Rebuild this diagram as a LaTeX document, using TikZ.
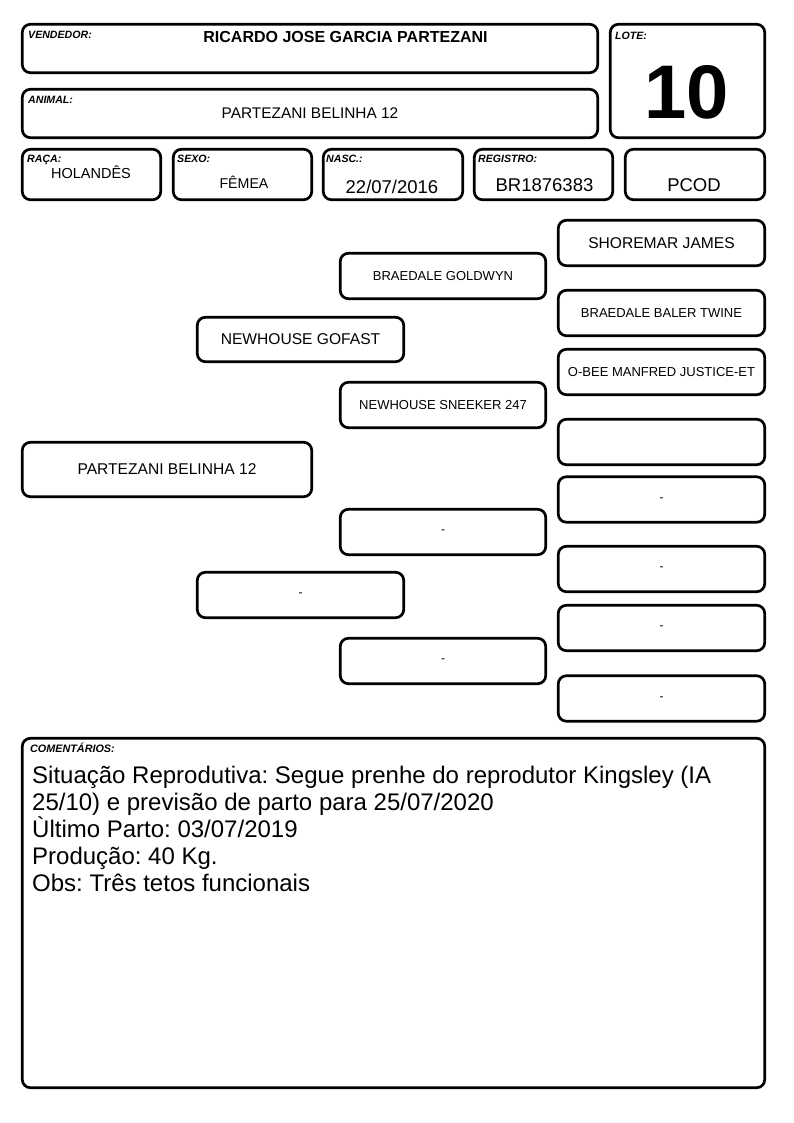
\documentclass[tikz,border=0pt]{standalone}
\usepackage{fontspec}
\setmainfont{Liberation Sans}
\frenchspacing
\tikzset{
  box/.style={draw=black, line width=2.7pt, rounded corners=8pt, fill=white, inner sep=0pt},
  lbl/.style={anchor=base west, inner sep=0pt, font=\fontsize{10.6}{12}\selectfont\bfseries\itshape},
  val/.style={anchor=base, inner sep=0pt},
  pedbig/.style={font=\fontsize{15.6}{18}\selectfont},
  pedsmall/.style={font=\fontsize{13}{15}\selectfont},
  dashtxt/.style={font=\fontsize{12}{14}\selectfont},
  cline/.style={anchor=base west, inner sep=0pt, font=\fontsize{24}{27}\selectfont}
}
\begin{document}
\begin{tikzpicture}[x=1pt,y=-1pt]
\useasboundingbox[fill=white] (0,0) rectangle (794,1123);
% header boxes
\node[box, minimum width=575.4pt, minimum height=48.4pt] (vend) at (310,48.5) {};
\node[box, minimum width=154.4pt, minimum height=113.4pt] (lote) at (687.5,81) {};
\node[box, minimum width=575.4pt, minimum height=48.4pt] (anim) at (310,113.5) {};
\node[box, minimum width=138.4pt, minimum height=50.4pt] (raca) at (91.5,174.5) {};
\node[box, minimum width=138.4pt, minimum height=50.4pt] (sexo) at (242.5,174.5) {};
\node[box, minimum width=139.4pt, minimum height=50.4pt] (nasc) at (393,174.5) {};
\node[box, minimum width=138.4pt, minimum height=50.4pt] (reg) at (543.5,174.5) {};
\node[box, minimum width=139.4pt, minimum height=50.4pt] (pcod) at (695,174.5) {};
% header labels
\node[lbl] (lvend) at (28,39) {VENDEDOR:};
\node[val, font=\fontsize{16}{19}\selectfont\bfseries] (tvend) at (345.5,43) {RICARDO JOSE GARCIA PARTEZANI};
\node[lbl] (lanim) at (28,103.3) {ANIMAL:};
\node[val, font=\fontsize{15.4}{18}\selectfont] (tanim) at (310,119) {PARTEZANI BELINHA 12};
\node[lbl] (llote) at (615,40) {LOTE:};
\node[val, font=\fontsize{76}{80}\selectfont\bfseries] (tlote) at (686.5,118.3) {10};
\node[lbl] (lraca) at (27,162.3) {RAÇA:};
\node[val, font=\fontsize{14.5}{17}\selectfont] (traca) at (91,178.3) {HOLANDÊS};
\node[lbl] (lsexo) at (177,162.5) {SEXO:};
\node[val, font=\fontsize{14.2}{17}\selectfont] (tsexo) at (244,189) {FÊMEA};
\node[lbl] (lnasc) at (326,162.5) {NASC.:};
\node[val, font=\fontsize{18.5}{21}\selectfont] (tnasc) at (392,193.3) {22/07/2016};
\node[lbl] (lreg) at (478,162.5) {REGISTRO:};
\node[val, font=\fontsize{18.5}{21}\selectfont] (treg) at (544.5,192) {BR1876383};
\node[val, font=\fontsize{18.5}{21}\selectfont] (tpcod) at (694,192) {PCOD};
% pedigree
\node[box, pedbig, minimum width=289.4pt, minimum height=54.4pt] (p0) at (167,469.5) {PARTEZANI BELINHA 12};
\node[box, pedbig, minimum width=206.4pt, minimum height=44.4pt] (s) at (300.5,339.5) {NEWHOUSE GOFAST};
\node[box, dashtxt, minimum width=206.4pt, minimum height=45.4pt] (d) at (300.5,595) {-};
\node[box, pedsmall, minimum width=205.4pt, minimum height=45.4pt] (ss) at (443,276) {BRAEDALE GOLDWYN};
\node[box, pedsmall, minimum width=205.4pt, minimum height=45.4pt] (sd) at (443,405) {NEWHOUSE SNEEKER 247};
\node[box, dashtxt, minimum width=205.4pt, minimum height=45.4pt] (ds) at (443,532) {-};
\node[box, dashtxt, minimum width=205.4pt, minimum height=45.4pt] (dd) at (443,661) {-};
\node[box, pedbig, minimum width=206.4pt, minimum height=45.4pt] (sss) at (661.5,243) {SHOREMAR JAMES};
\node[box, pedsmall, minimum width=206.4pt, minimum height=45.4pt] (ssd) at (661.5,313) {BRAEDALE BALER TWINE};
\node[box, pedsmall, minimum width=206.4pt, minimum height=45.4pt] (sds) at (661.5,372) {O-BEE MANFRED JUSTICE-ET};
\node[box, pedsmall, minimum width=206.4pt, minimum height=45.4pt] (sdd) at (661.5,442) {};
\node[box, dashtxt, minimum width=206.4pt, minimum height=45.4pt] (dss) at (661.5,499.5) {-};
\node[box, dashtxt, minimum width=206.4pt, minimum height=45.4pt] (dsd) at (661.5,569) {-};
\node[box, dashtxt, minimum width=206.4pt, minimum height=45.4pt] (dds) at (661.5,628) {-};
\node[box, dashtxt, minimum width=206.4pt, minimum height=45.4pt] (ddd) at (661.5,698.5) {-};
% comments
\node[box, minimum width=742.4pt, minimum height=349.4pt] (com) at (393.5,913) {};
\node[lbl, font=\fontsize{10.8}{12}\selectfont\bfseries\itshape] (lcom) at (30,752.7) {COMENTÁRIOS:};
\node[cline] (c1) at (32,783.3) {Situação Reprodutiva: Segue prenhe do reprodutor Kingsley (IA};
\node[cline] (c2) at (32,810.3) {25/10) e previsão de parto para 25/07/2020};
\node[cline] (c3) at (32,837.3) {Ùltimo Parto: 03/07/2019};
\node[cline] (c4) at (32,864.3) {Produção: 40 Kg.};
\node[cline] (c5) at (32,891.3) {Obs: Três tetos funcionais};
\end{tikzpicture}
\end{document}
